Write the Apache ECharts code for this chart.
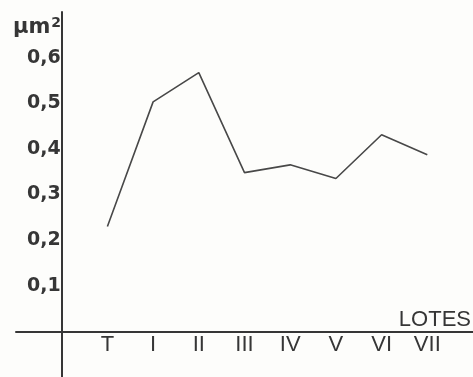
<!DOCTYPE html>
<html>
<head>
<meta charset="utf-8">
<script src="https://cdn.jsdelivr.net/npm/echarts@6/dist/echarts.min.js"></script>
<style>html,body{margin:0;padding:0;background:#fdfdfb;}#c{width:473px;height:377px;}</style>
</head>
<body>
<div id="c"></div>
<script>
var categories = ['T', 'I', 'II', 'III', 'IV', 'V', 'VI', 'VII'];
var values = [0.23, 0.503, 0.567, 0.348, 0.365, 0.335, 0.431, 0.387];
var yTicks = [0.1, 0.2, 0.3, 0.4, 0.5, 0.6];
var yUnit = 'μm';
var xName = 'LOTES';

var ink = '#363636';
var chart = echarts.init(document.getElementById('c'), null, {renderer: 'canvas'});
var seriesData = values.map(function (v, i) { return [i + 1, v]; });
chart.setOption({
  backgroundColor: '#fdfdfb',
  animation: false,
  grid: [
    {left: 61.7, right: 0, top: 12, bottom: 45.6, containLabel: false, outerBoundsMode: 'none'},
    {left: 16, right: 0, top: 12, bottom: 0, containLabel: false, outerBoundsMode: 'none'}
  ],
  title: {
    text: yUnit + '{s|2}',
    left: 8, top: 11,
    textStyle: {
      fontFamily: 'DejaVu Sans', fontWeight: 'bold', fontSize: 21, color: ink,
      rich: {s: {fontFamily: 'DejaVu Sans', fontWeight: 'bold', fontSize: 14, color: ink, verticalAlign: 'top', padding: [0, 0, 10, 1]}}
    }
  },
  graphic: [{
    type: 'text', right: 2, top: 309,
    style: {text: xName, font: '22px "Liberation Sans"', fill: ink}
  }],
  xAxis: [{
    gridIndex: 0, type: 'value', min: 0, max: 9, interval: 1,
    splitLine: {show: false},
    axisLine: {show: false},
    axisTick: {show: false},
    axisLabel: {
      margin: 3,
      fontFamily: 'Liberation Sans', fontSize: 22, color: ink,
      formatter: function (v) { return (v >= 1 && v <= categories.length) ? categories[v - 1] : ''; }
    }
  }, {
    gridIndex: 1, type: 'value', min: -1, max: 9, interval: 1,
    splitLine: {show: false},
    axisLine: {show: true, onZero: true, lineStyle: {color: ink, width: 2}},
    axisTick: {show: false},
    axisLabel: {show: false}
  }],
  yAxis: [{
    gridIndex: 0, type: 'value', min: 0, max: 0.7, interval: 0.1,
    splitLine: {show: false},
    axisLine: {show: false},
    axisTick: {show: false},
    axisLabel: {
      margin: 1,
      fontFamily: 'DejaVu Sans', fontWeight: 'bold', fontSize: 19, color: ink,
      formatter: function (v) {
        for (var i = 0; i < yTicks.length; i++) {
          if (Math.abs(v - yTicks[i]) < 1e-6) return yTicks[i].toFixed(1).replace('.', ',');
        }
        return '';
      }
    }
  }, {
    gridIndex: 1, type: 'value', min: -0.1, max: 0.7, interval: 0.1,
    splitLine: {show: false},
    axisLine: {show: true, onZero: true, lineStyle: {color: ink, width: 2}},
    axisTick: {show: false},
    axisLabel: {show: false}
  }],
  series: [{
    type: 'line', xAxisIndex: 0, yAxisIndex: 0, data: seriesData, symbol: 'none',
    lineStyle: {color: '#484848', width: 1.6}
  }]
});
</script>
</body>
</html>
